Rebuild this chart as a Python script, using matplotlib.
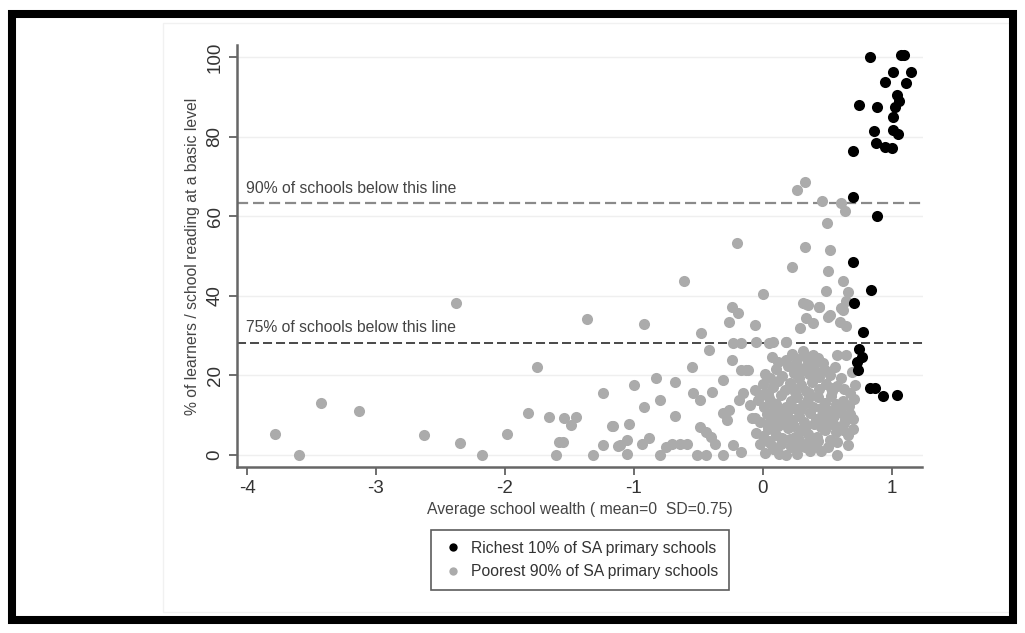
import matplotlib
matplotlib.use('Agg')
import matplotlib.pyplot as plt
from matplotlib.patches import Rectangle

plt.rcParams['font.family'] = ['Liberation Sans', 'DejaVu Sans']

# richest 10% of schools (black)
rich_x = [0.83, 1.07, 1.10, 1.01, 1.15, 0.95, 1.11, 1.04, 1.06, 0.75, 0.89, 1.03,
          1.01, 0.86, 1.01, 1.05, 0.88, 0.95, 1.00, 0.70, 0.70, 0.89, 0.70, 0.84,
          0.71, 0.78, 0.75, 0.77, 0.73, 0.74, 0.83, 0.87, 0.93, 1.04]
rich_y = [100.0, 100.5, 100.5, 96.2, 96.3, 93.7, 93.5, 90.5, 89.0, 87.9, 87.4, 87.6,
          84.9, 81.5, 81.7, 80.6, 78.4, 77.4, 77.1, 76.5, 64.9, 60.1, 48.6, 41.4,
          38.1, 30.9, 26.7, 24.6, 23.4, 21.3, 16.7, 16.7, 14.7, 15.0]

# poorest 90% of schools (grey) - scattered points
poor_x = [-3.78, -3.60, -3.43, -3.13, -2.63, -2.35, -2.18, -1.98, -1.82, -1.75,
          -1.66, -1.60, -1.58, -2.38, -1.36, -1.24, -1.54, -1.49, -1.45, -1.55,
          -1.32, -1.24, -1.16, -1.12, -0.92, -0.48, -0.24, -0.19, -0.26, -0.06,
          -0.42, -0.23, -0.17, -0.05, 0.05, 0.18, -0.24, -0.55, -0.17, -0.11,
          -0.83, -0.68, -0.31, -1.00, -0.54, -0.49, -0.39, -0.80, -0.92, -0.68,
          -1.17, -1.04, -1.11, -1.05, -1.05, -0.94, -0.88, -0.80, -0.75, -0.70,
          -0.64, -0.59, -0.51, -0.44, -0.49, -0.44, -0.40, -0.37, -0.31, -0.31,
          -0.28, -0.26, -0.23, -0.17, -0.18, -0.15, -0.06, -0.13,
          0.33, 0.27, 0.46, 0.61, 0.64, 0.50, -0.20, 0.33, 0.52, 0.23, 0.51,
          -0.61, 0.62, 0.49, 0.00, 0.66, 0.31, 0.35, 0.44, 0.65, 0.62, 0.51,
          0.34, 0.44, 0.52, 0.61, 0.34, 0.39, 0.29, 0.60, 0.65, 0.08, 0.18,
          0.58, 0.65, 0.69, 0.58]
poor_y = [5.3, 0.0, 12.9, 11.0, 4.9, 3.0, 0.0, 5.2, 10.6, 22.1,
          9.5, 0.0, 3.2, 38.1, 34.1, 15.4, 9.1, 7.4, 9.5, 3.2,
          0.0, 2.4, 7.2, 2.2, 32.9, 30.7, 37.2, 35.6, 33.5, 32.6,
          26.3, 28.2, 28.0, 28.4, 28.0, 28.4, 23.8, 22.1, 21.3, 21.3,
          19.2, 18.3, 18.9, 17.5, 15.4, 13.7, 15.8, 13.7, 12.0, 9.7,
          7.2, 7.7, 2.4, 3.7, 0.1, 2.8, 4.1, 0.0, 2.0, 2.6,
          2.8, 2.6, 0.0, 0.0, 7.0, 5.7, 4.5, 2.8, 0.0, 10.4,
          8.7, 11.2, 2.4, 0.7, 13.7, 15.4, 9.1, 21.3,
          68.7, 66.6, 63.9, 63.3, 61.2, 58.4, 53.2, 52.2, 51.5, 47.3, 46.3,
          43.8, 43.8, 41.3, 40.4, 41.0, 38.1, 37.7, 37.1, 38.7, 36.4, 34.7,
          37.9, 37.1, 35.1, 36.8, 34.3, 33.2, 31.8, 33.5, 32.4, 28.4, 28.4,
          25.0, 25.0, 20.9, 0.0]

# poorest 90% - the dense cluster around wealth 0 to 0.7
cluster_x = [0.02, 0.08, 0.13, 0.18, 0.22, 0.27, 0.33, 0.40, 0.45, -0.02, 0.05, 0.36,
             -0.05, 0.00, 0.04, 0.10, 0.15, 0.20, 0.25, 0.30, 0.35, 0.42, 0.48, 0.52,
             0.57, 0.62, 0.66, 0.70, 0.12, 0.28, 0.45,
             -0.08, -0.02, 0.03, 0.07, 0.11, 0.16, 0.19, 0.23, 0.28, 0.32, 0.37, 0.41,
             0.46, 0.50, 0.55, 0.60, 0.64, 0.68, 0.09, 0.26, 0.52,
             -0.10, -0.04, 0.01, 0.05, 0.10, 0.14, 0.18, 0.22, 0.27, 0.31, 0.35, 0.39,
             0.43, 0.48, 0.53, 0.57, 0.62, 0.67, 0.71,
             -0.06, 0.00, 0.04, 0.08, 0.12, 0.17, 0.21, 0.25, 0.30, 0.34, 0.38, 0.44,
             0.49, 0.54, 0.58, 0.63, 0.68, 0.72,
             0.02, 0.06, 0.10, 0.15, 0.20, 0.24, 0.28, 0.32, 0.36, 0.40, 0.44, 0.48,
             0.52, 0.56, 0.61,
             0.18, 0.23, 0.27, 0.31, 0.35, 0.39, 0.43, 0.47, 0.07, 0.12,
             0.06, 0.14, 0.21, 0.29, 0.37, 0.43, 0.51, 0.58, 0.66,
             0.03, 0.09, 0.16, 0.24, 0.33, 0.40, 0.47, 0.55, 0.63, 0.70,
             0.01, 0.08, 0.15, 0.22, 0.29, 0.36, 0.45, 0.53, 0.60,
             0.26, 0.30, 0.34, 0.38, 0.42]
cluster_y = [0.3, 1.5, 0.2, 0.0, 2.0, 0.1, 1.8, 2.5, 0.8, 2.6, 3.5, 3.2,
             5.5, 4.8, 6.5, 5.0, 4.2, 6.8, 4.5, 6.0, 5.2, 4.4, 6.3, 3.8,
             5.6, 6.2, 4.9, 6.5, 7.2, 3.6, 7.0,
             9.1, 8.3, 10.2, 8.6, 9.8, 7.9, 10.5, 8.8, 9.6, 8.1, 10.6, 9.0,
             10.1, 8.5, 9.7, 10.8, 8.9, 10.3, 11.2, 11.4, 11.0,
             12.5, 13.8, 11.9, 14.2, 12.8, 14.9, 12.1, 13.6, 14.6, 12.4, 13.9, 12.0,
             14.4, 13.0, 14.8, 12.7, 13.5, 12.2, 14.0,
             16.2, 17.8, 15.6, 17.0, 18.6, 16.3, 18.0, 15.8, 17.4, 16.0, 18.3, 16.6,
             17.9, 15.9, 17.2, 16.4, 15.5, 17.6,
             20.3, 19.4, 21.5, 19.8, 22.3, 20.6, 19.2, 21.8, 20.2, 22.6, 19.6, 21.2,
             20.0, 22.0, 19.3,
             23.8, 25.2, 24.1, 26.0, 23.5, 25.0, 24.3, 23.1, 24.5, 23.2,
             3.0, 2.6, 3.9, 2.2, 1.0, 3.4, 2.0, 3.1, 2.4,
             7.6, 6.3, 9.2, 7.1, 6.6, 7.8, 8.3, 7.4, 8.0, 9.0,
             15.2, 13.1, 11.0, 16.9, 11.3, 15.4, 11.8, 16.8, 11.6,
             22.8, 21.0, 24.8, 21.6, 20.9]

line90 = 63.3
line75 = 28.2
xticks = [-4, -3, -2, -1, 0, 1]
yticks = [0, 20, 40, 60, 80, 100]

fig = plt.figure(figsize=(10.25, 6.33), dpi=100)
ax = fig.add_axes([0.231, 0.262, 0.669, 0.667])

grey = '#ababab'
ax.plot(poor_x + cluster_x, poor_y + cluster_y, 'o', color=grey, markersize=8,
        markeredgewidth=0, label='Poorest 90% of SA primary schools', zorder=2)
ax.plot(rich_x, rich_y, 'o', color='black', markersize=8, markeredgewidth=0,
        label='Richest 10% of SA primary schools', zorder=3)

ax.axhline(line90, color='#8a8a8a', linestyle=(0, (5, 2.2)), linewidth=1.6, zorder=1)
ax.axhline(line75, color='#3a3a3a', linestyle=(0, (5, 2.2)), linewidth=1.3, zorder=1)
ax.text(-4.01, line90 + 1.8, '90% of schools below this line', fontsize=11.3,
        color='#444444', va='bottom')
ax.text(-4.01, line75 + 1.8, '75% of schools below this line', fontsize=11.3,
        color='#444444', va='bottom')

ax.set_xlim(-4.08, 1.24)
ax.set_ylim(-3.15, 103.1)
ax.set_xticks(xticks)
ax.set_yticks(yticks)
ax.set_xticklabels([str(v) for v in xticks], fontsize=13.5, color='#333333')
ax.set_yticklabels([str(v) for v in yticks], fontsize=13.5, color='#333333',
                   rotation=90, va='center')
ax.tick_params(length=6, width=1.2, color='#555555')
ax.yaxis.grid(True, color='#efefef', linewidth=1)
ax.set_axisbelow(True)
for s in ['top', 'right']:
    ax.spines[s].set_visible(False)
for s in ['left', 'bottom']:
    ax.spines[s].set_color('#666666')
    ax.spines[s].set_linewidth(1.8)

ax.set_xlabel('Average school wealth ( mean=0  SD=0.75)', fontsize=11.3, color='#444444',
              labelpad=3)
ax.set_ylabel('% of learners / school reading at a basic level', fontsize=11.3,
              color='#444444', labelpad=5)

handles, labels = ax.get_legend_handles_labels()
leg = fig.legend(handles[::-1], labels[::-1], loc='upper center',
                 bbox_to_anchor=(0.566, 0.163), fontsize=11.3, markerscale=0.75,
                 frameon=True, fancybox=False, handletextpad=0.5, borderaxespad=0,
                 borderpad=0.7, labelspacing=0.55, handlelength=1.3)
leg.get_frame().set_edgecolor('#333333')
leg.get_frame().set_linewidth(1.2)
for t in leg.get_texts():
    t.set_color('#333333')

# faint plot region outline and the thick black frame
fig.patches.append(Rectangle((0.159, 0.033), 0.83, 0.93, transform=fig.transFigure,
                             fill=False, edgecolor='#f1f1f1', linewidth=1))
fig.patches.append(Rectangle((0.0117, 0.0205), 0.9763, 0.9575, transform=fig.transFigure,
                             fill=False, edgecolor='black', linewidth=5.8))

plt.savefig('out.png', dpi=100)
